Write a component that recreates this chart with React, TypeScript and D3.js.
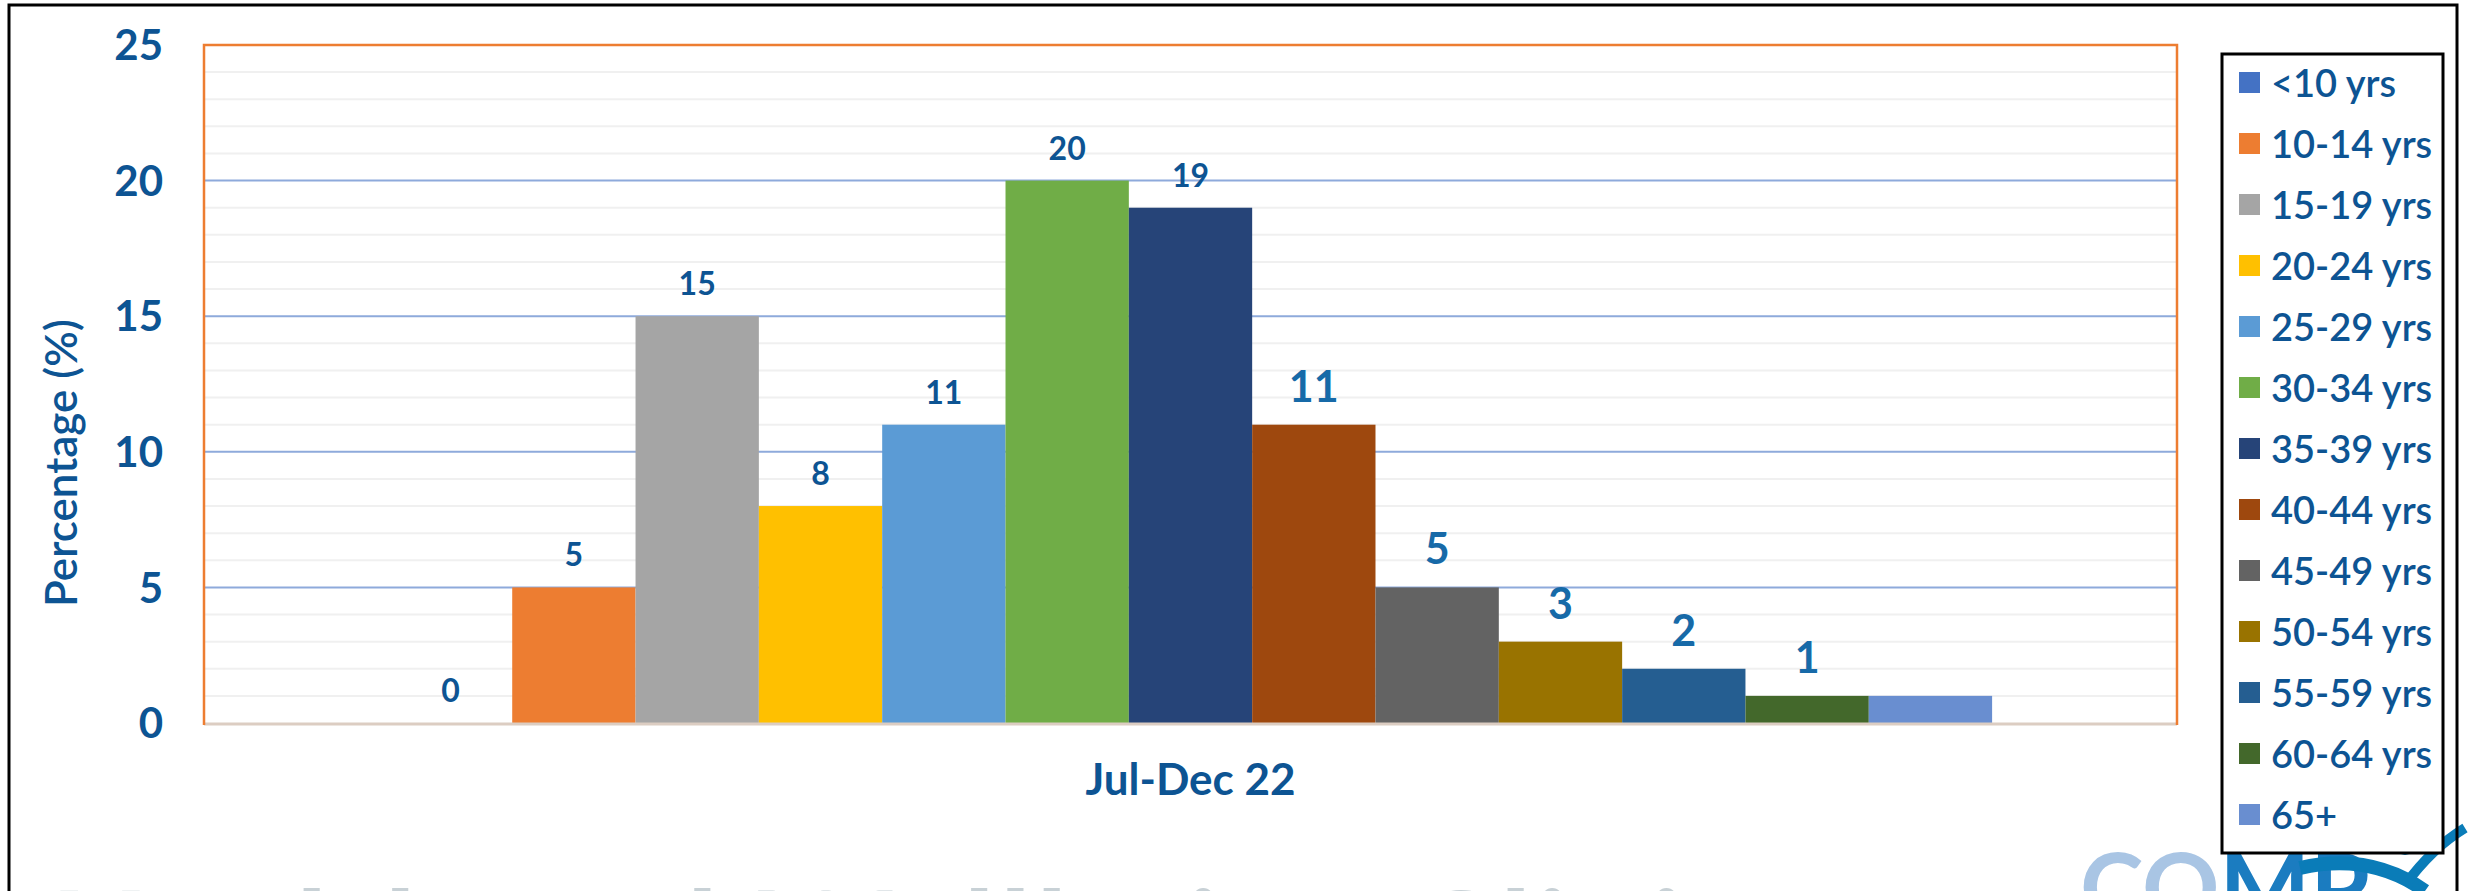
import React from "react";
import * as d3 from "d3";

// values
const categories = ["Jul-Dec 22"];
const ageGroups = [
  "<10 yrs", "10-14 yrs", "15-19 yrs", "20-24 yrs", "25-29 yrs", "30-34 yrs", "35-39 yrs",
  "40-44 yrs", "45-49 yrs", "50-54 yrs", "55-59 yrs", "60-64 yrs", "65+",
];
const percentages = [0, 5, 15, 8, 11, 20, 19, 11, 5, 3, 2, 1, 1];
// the last bar carries no label in the original
const showLabel = [true, true, true, true, true, true, true, true, true, true, true, true, false];
// labels from 40-44 on are drawn larger in the original
const bigLabel = [false, false, false, false, false, false, false, true, true, true, true, true, true];
const barColors = [
  "#4472c4", "#ed7d31", "#a5a5a5", "#ffc000", "#5b9bd5", "#70ad47", "#264478",
  "#9e480e", "#636363", "#997300", "#255e91", "#43682b", "#698ed0",
];
const yTicks = [0, 5, 10, 15, 20, 25];

const W = 2471;
const H = 891;
const FONT = "Lato, 'Open Sans', sans-serif";
const TEXT = "#0d5493";

const App = () => {
  const plot = { left: 204, right: 2177, top: 45, bottom: 723 };

  const y = d3.scaleLinear().domain([0, 25]).range([plot.bottom, plot.top]);
  const x0 = d3.scaleBand().domain(categories).range([plot.left, plot.right]).padding(0.1034);
  const x1 = d3.scaleBand().domain(ageGroups).range([0, x0.bandwidth()]).padding(0);

  const minor = d3.range(1, 25).filter(v => v % 5 !== 0);
  const major = [5, 10, 15, 20];

  const legend = { x: 2222, y: 54, w: 221, h: 799, row: 61, first: 83 };

  return (
    <svg width={W} height={H} style={{ position: "absolute", left: 0, top: 0, background: "#fff" }}>
      <defs>
        <clipPath id="wm">
          <rect x={40} y={840} width={2010} height={60} />
        </clipPath>
      </defs>

      {/* slide heading below the chart, only its top edge is in frame */}
      <text
        x={50}
        y={985}
        clipPath="url(#wm)"
        fontFamily={FONT}
        fontWeight={700}
        fontSize={130}
        fill="#c8d1d6"
        letterSpacing={4}
      >
        Health and Wellbeing Clinic Attendances Jul-Dec
      </text>

      {/* logo, cut at the bottom */}
      <text x={2080} y={922} fontFamily={FONT} fontWeight={700} fontSize={96}>
        <tspan fill="#a9c5e4">CO</tspan>
        <tspan fill="#1b7cc0">MP</tspan>
      </text>
      <path d="M2300,868 Q2370,852 2425,891" fill="none" stroke="#0a7cb8" strokeWidth={14} />
      <path d="M2405,885 Q2432,848 2465,828" fill="none" stroke="#0a7cb8" strokeWidth={10} />
      <circle cx={2405} cy={845} r={10} fill="#0a7cb8" />

      {/* outer frame */}
      <rect x={9} y={5} width={2448} height={H + 20} fill="none" stroke="#000" strokeWidth={3} />

      {/* gridlines */}
      {minor.map(v => (
        <line key={"mn" + v} x1={plot.left} x2={plot.right} y1={y(v)} y2={y(v)} stroke="#f0f0f0" strokeWidth={2} />
      ))}
      {major.map(v => (
        <line key={"mj" + v} x1={plot.left} x2={plot.right} y1={y(v)} y2={y(v)} stroke="#8eaadb" strokeWidth={2} />
      ))}

      {/* bars */}
      {categories.map(cat => (
        <g key={cat} transform={`translate(${x0(cat)},0)`}>
          {ageGroups.map((g, i) => (
            <rect
              key={g}
              x={x1(g)}
              y={y(percentages[i])}
              width={x1.bandwidth()}
              height={y(0) - y(percentages[i])}
              fill={barColors[i]}
            />
          ))}
          {ageGroups.map((g, i) =>
            showLabel[i] ? (
              <text
                key={"l" + g}
                x={(x1(g) || 0) + x1.bandwidth() / 2}
                y={y(percentages[i]) - (bigLabel[i] ? 23 : 21)}
                textAnchor="middle"
                fontFamily={FONT}
                fontWeight={700}
                fontSize={bigLabel[i] ? 43 : 32}
                fill={bigLabel[i] ? "#176aa8" : TEXT}
              >
                {percentages[i]}
              </text>
            ) : null
          )}
        </g>
      ))}

      {/* plot border */}
      <line x1={plot.left} x2={plot.right} y1={plot.bottom + 1} y2={plot.bottom + 1} stroke="#dccdc2" strokeWidth={3} />
      <path
        d={`M${plot.left},${plot.bottom + 2} V${plot.top} H${plot.right} V${plot.bottom + 2}`}
        fill="none"
        stroke="#ed7d31"
        strokeWidth={2.5}
      />

      {/* y ticks */}
      {yTicks.map(t => (
        <text
          key={"t" + t}
          x={163}
          y={y(t)}
          dy="0.36em"
          textAnchor="end"
          fontFamily={FONT}
          fontWeight={700}
          fontSize={42}
          fill={TEXT}
        >
          {t}
        </text>
      ))}

      {/* axis titles */}
      <text
        transform={`translate(77,${(plot.top + plot.bottom) / 2 + 79}) rotate(-90)`}
        textAnchor="middle"
        fontFamily={FONT}
        fontWeight={600}
        fontSize={44}
        fill={TEXT}
      >
        Percentage (%)
      </text>
      {categories.map(cat => (
        <text
          key={"c" + cat}
          x={(x0(cat) || 0) + x0.bandwidth() / 2}
          y={795}
          textAnchor="middle"
          fontFamily={FONT}
          fontWeight={700}
          fontSize={44}
          fill={TEXT}
        >
          {cat}
        </text>
      ))}

      {/* legend */}
      <rect x={legend.x} y={legend.y} width={legend.w} height={legend.h} fill="#fff" stroke="#000" strokeWidth={3} />
      {ageGroups.map((g, i) => {
        const cy = legend.first + i * legend.row;
        return (
          <g key={"lg" + g}>
            <rect x={2239} y={cy - 11} width={21} height={21} fill={barColors[i]} />
            <text x={2271} y={cy} dy="0.36em" fontFamily={FONT} fontWeight={600} fontSize={38} fill={TEXT}>
              {g}
            </text>
          </g>
        );
      })}
    </svg>
  );
};

export default App;
